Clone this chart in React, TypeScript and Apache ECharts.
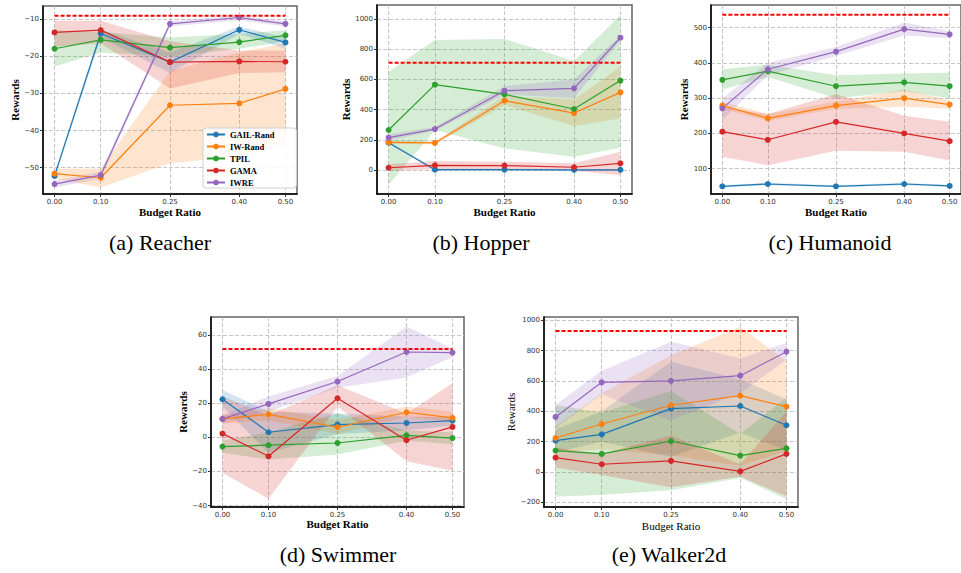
import React, { useEffect, useRef } from 'react';
import * as echarts from 'echarts';

const budgets = [0, 0.1, 0.25, 0.4, 0.5];
const methods = ['GAIL-Rand', 'IW-Rand', 'TPIL', 'GAMA', 'IWRE'];
const colors = ['#1f77b4', '#ff7f0e', '#2ca02c', '#d62728', '#9467bd'];

// (a) Reacher  rows: GAIL-Rand, IW-Rand, TPIL, GAMA, IWRE
const reacherMean = [
  [-52.2, -13.9, -21.6, -12.9, -16.3],
  [-51.6, -52.7, -33.2, -32.7, -28.8],
  [-18.0, -15.6, -17.7, -16.2, -14.4],
  [-13.6, -13.0, -21.6, -21.4, -21.5],
  [-54.4, -52.0, -11.3, -9.6, -11.3],
];
const reacherLo = [
  [-53.0, -15.0, -24.5, -14.0, -18.0],
  [-53.0, -55.3, -48.8, -47.0, -44.0],
  [-22.8, -19.0, -20.0, -18.0, -16.0],
  [-17.4, -16.5, -28.7, -24.5, -24.3],
  [-55.3, -53.0, -12.0, -10.3, -12.0],
];
const reacherHi = [
  [-51.4, -12.8, -19.0, -12.0, -15.0],
  [-50.3, -50.2, -24.0, -19.0, -16.5],
  [-13.0, -13.5, -15.0, -14.0, -13.0],
  [-10.5, -10.5, -16.0, -18.5, -18.5],
  [-53.5, -51.0, -10.6, -9.0, -10.6],
];
const reacherExpert = -9.1;
const reacherTicks = [-50, -40, -30, -20, -10];

// (b) Hopper
const hopperMean = [
  [181, 2, 2, 1, 1],
  [183, 179, 459, 377, 514],
  [265, 565, 501, 404, 592],
  [15, 31, 29, 18, 44],
  [214, 271, 525, 541, 876],
];
const hopperLo = [
  [175, -5, -5, -8, -6],
  [173, 168, 430, 291, 342],
  [-99, 265, 143, 88, 148],
  [-5, 5, 5, -5, -35],
  [196, 260, 500, 475, 860],
];
const hopperHi = [
  [190, 8, 8, 7, 7],
  [193, 190, 490, 468, 684],
  [651, 861, 868, 722, 1026],
  [38, 60, 55, 45, 120],
  [235, 285, 555, 600, 890],
];
const hopperExpert = 711;
const hopperTicks = [0, 200, 400, 600, 800, 1000];

// (c) Humanoid
const humanoidMean = [
  [50, 56.5, 50, 56.5, 51],
  [279, 243, 279, 300, 282],
  [352, 377, 334, 345, 334],
  [205, 182, 233, 200, 178],
  [271, 382, 432, 496, 481],
];
const humanoidLo = [
  [47, 53, 47, 53, 48],
  [270, 235, 270, 276, 270],
  [325, 360, 300, 320, 300],
  [134, 110, 151, 148, 123],
  [238, 365, 420, 478, 470],
];
const humanoidHi = [
  [53, 60, 53, 60, 54],
  [290, 255, 290, 325, 295],
  [382, 395, 365, 370, 372],
  [275, 255, 312, 250, 233],
  [300, 400, 445, 515, 490],
];
const humanoidExpert = 537;
const humanoidTicks = [100, 200, 300, 400, 500];

// (d) Swimmer
const swimmerMean = [
  [22.3, 3.0, 7.5, 8.4, 9.8],
  [10.8, 13.5, 5.9, 14.7, 11.4],
  [-5.4, -4.6, -3.3, 1.2, -0.4],
  [2.2, -11.1, 22.9, -1.7, 6.1],
  [10.8, 19.6, 32.7, 50.0, 49.6],
];
const swimmerLo = [
  [18, -9, 2, 4, 7],
  [8, 10, 2, 12, 9],
  [-9, -13, -10, -2, -4],
  [-20.7, -36, 18, -14, -19.5],
  [8, 15, 29, 35, 47],
];
const swimmerHi = [
  [27.8, 15, 14, 12, 12],
  [13, 17, 10, 18, 15],
  [-2, 3, 14, 4, 3],
  [24, 13, 30.5, 14, 31.7],
  [13, 24, 36, 65, 52],
];
const swimmerExpert = 51.8;
const swimmerTicks = [-40, -20, 0, 20, 40, 60];

// (e) Walker2d
const walkerMean = [
  [207, 248, 418, 435, 308],
  [224, 316, 440, 503, 431],
  [141, 119, 204, 108, 156],
  [95, 51, 73, 4, 119],
  [363, 591, 600, 635, 793],
];
const walkerLo = [
  [130, 200, 100, 260, 140],
  [130, 150, 110, 40, 140],
  [-163, -150, -120, -40, -178],
  [30, -20, -100, -30, -160],
  [290, 510, 340, 520, 740],
];
const walkerHi = [
  [280, 400, 727, 610, 480],
  [300, 519, 770, 958, 730],
  [442, 390, 534, 250, 490],
  [160, 120, 240, 50, 400],
  [442, 668, 859, 749, 850],
];
const walkerExpert = 930;
const walkerTicks = [-200, 0, 200, 400, 600, 800, 1000];

const panels = [
  { caption: '(a) Reacher', mean: reacherMean, lo: reacherLo, hi: reacherHi, expert: reacherExpert, ticks: reacherTicks, yMin: -57.07, yMax: -6.5, left: 43, top: 6, width: 254, height: 188, bold: true, capX: 160, capTop: 231, yGap: 21, xGap: 12 },
  { caption: '(b) Hopper', mean: hopperMean, lo: hopperLo, hi: hopperHi, expert: hopperExpert, ticks: hopperTicks, yMin: -159, yMax: 1092.7, left: 377, top: 5, width: 255, height: 189, bold: true, capX: 481, capTop: 231, yGap: 24, xGap: 12 },
  { caption: '(c) Humanoid', mean: humanoidMean, lo: humanoidLo, hi: humanoidHi, expert: humanoidExpert, ticks: humanoidTicks, yMin: 28.2, yMax: 564.4, left: 711, top: 5, width: 254, height: 189, bold: true, capX: 830, capTop: 231, yGap: 21, xGap: 12 },
  { caption: '(d) Swimmer', mean: swimmerMean, lo: swimmerLo, hi: swimmerHi, expert: swimmerExpert, ticks: swimmerTicks, yMin: -40.8, yMax: 70.5, left: 211, top: 317, width: 253, height: 190, bold: true, capX: 338, capTop: 543, yGap: 21, xGap: 11 },
  { caption: '(e) Walker2d', mean: walkerMean, lo: walkerLo, hi: walkerHi, expert: walkerExpert, ticks: walkerTicks, yMin: -231, yMax: 1021.8, left: 544, top: 317, width: 254, height: 190, bold: false, capX: 669, capTop: 543, yGap: 26, xGap: 13 },
];

const fmtNum = (v: number) => (v < 0 ? '\u2212' + Math.abs(v) : String(v));

export default function App() {
  const ref = useRef<HTMLDivElement>(null);
  useEffect(() => {
    if (!ref.current) return;
    const chart = echarts.init(ref.current, undefined, { renderer: 'svg' });
    const grids: any[] = [];
    const xAxes: any[] = [];
    const yAxes: any[] = [];
    const series: any[] = [];
    const titles: any[] = [];
    const gridLine = { show: true, lineStyle: { color: '#b8b8b8', type: [4, 2], width: 0.8 } };
    panels.forEach((p, i) => {
      grids.push({ left: p.left, top: p.top, width: p.width, height: p.height, show: true, borderColor: '#666', borderWidth: 1.5, backgroundColor: 'transparent', containLabel: false });
      const nameStyle = { fontFamily: 'Liberation Serif', fontWeight: p.bold ? 'bold' : 'normal', fontSize: 11, color: '#000' };
      xAxes.push({
        type: 'value', gridIndex: i, min: -0.025, max: 0.525,
        name: 'Budget Ratio', nameLocation: 'middle', nameGap: p.xGap, nameTextStyle: nameStyle,
        axisLine: { show: true, onZero: false, lineStyle: { color: '#000', width: 1.5 } },
        axisTick: { show: true, customValues: budgets, length: 3, lineStyle: { color: '#333' } },
        axisLabel: { customValues: budgets, formatter: (v: number) => v.toFixed(2), fontSize: 7, fontFamily: 'DejaVu Sans', color: '#333', margin: 4 },
        splitLine: gridLine,
      });
      yAxes.push({
        type: 'value', gridIndex: i, min: p.yMin, max: p.yMax,
        name: 'Rewards', nameLocation: 'middle', nameGap: p.yGap, nameTextStyle: nameStyle,
        axisLine: { show: true, onZero: false, lineStyle: { color: '#000', width: 1.5 } },
        axisTick: { show: true, customValues: p.ticks, length: 3, lineStyle: { color: '#333' } },
        axisLabel: { customValues: p.ticks, formatter: (v: number) => fmtNum(v), fontSize: 7, fontFamily: 'DejaVu Sans', color: '#333', margin: 4 },
        splitLine: gridLine,
      });
      methods.forEach((m, k) => {
        const color = colors[k];
        series.push({
          type: 'custom', name: m + ' band', xAxisIndex: i, yAxisIndex: i, silent: true, z: 1,
          data: budgets.map((b, j) => [b, p.lo[k][j], p.hi[k][j]]),
          encode: { x: 0, y: [1, 2] },
          renderItem: (params: any, api: any) => {
            if (params.dataIndex !== 0) return null;
            const upper: number[][] = [];
            const lower: number[][] = [];
            for (let j = 0; j < budgets.length; j++) {
              const x = api.value(0, j);
              upper.push(api.coord([x, api.value(2, j)]));
              lower.push(api.coord([x, api.value(1, j)]));
            }
            return {
              type: 'polygon',
              shape: { points: upper.concat(lower.reverse()) },
              style: { fill: color, opacity: 0.2 },
            };
          },
        });
      });
      methods.forEach((m, k) => {
        series.push({
          type: 'line', name: m, xAxisIndex: i, yAxisIndex: i,
          data: budgets.map((b, j) => [b, p.mean[k][j]]),
          symbol: 'circle', symbolSize: 6, color: colors[k],
          lineStyle: { color: colors[k], width: 1.2 }, itemStyle: { color: colors[k] }, z: 3,
        });
      });
      series.push({
        type: 'line', name: 'Expert', xAxisIndex: i, yAxisIndex: i,
        data: [[budgets[0], p.expert], [budgets[budgets.length - 1], p.expert]],
        symbol: 'none', lineStyle: { color: '#ff0000', width: 2, type: [4, 2] }, z: 4, silent: true,
      });
      titles.push({
        text: p.caption, left: p.capX, top: p.capTop, textAlign: 'center', padding: 0,
        textStyle: { fontFamily: 'Liberation Serif', fontSize: 22, fontWeight: 'normal', color: '#000' },
      });
    });
    chart.setOption({
      animation: false,
      backgroundColor: '#fff',
      title: titles,
      grid: grids,
      xAxis: xAxes,
      yAxis: yAxes,
      series,
      legend: {
        data: methods, orient: 'vertical', left: 203, top: 128,
        itemWidth: 18, itemHeight: 7, itemGap: 3,
        padding: [2, 22, 1, 3],
        backgroundColor: 'rgba(255,255,255,0.85)', borderColor: '#d0d0d0', borderWidth: 1, borderRadius: 3,
        textStyle: { fontFamily: 'Liberation Serif', fontWeight: 'bold', fontSize: 8.5, color: '#000' },
      },
    });
    return () => chart.dispose();
  }, []);
  return <div ref={ref} style={{ position: 'absolute', left: 0, top: 0, width: 961, height: 573 }} />;
}
